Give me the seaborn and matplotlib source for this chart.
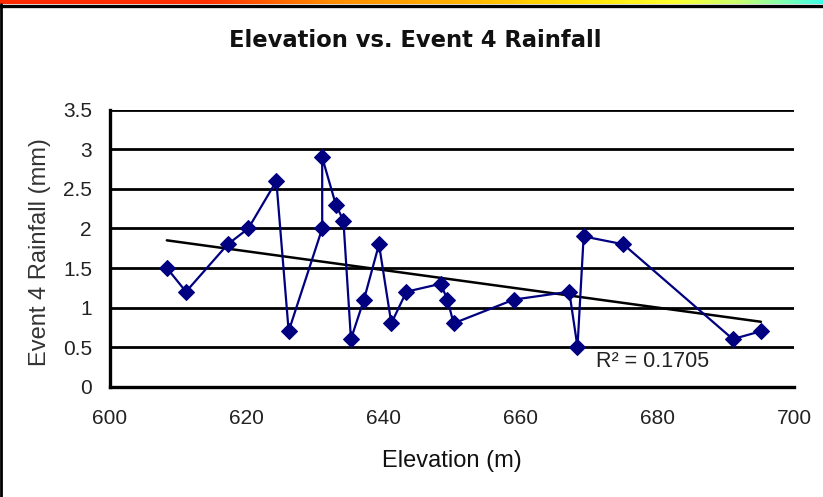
import numpy as np
import pandas as pd
import matplotlib
matplotlib.use("Agg")
import matplotlib.pyplot as plt
from matplotlib.colors import LinearSegmentedColormap
import seaborn as sns

# data
elevation = [608.3, 611.1, 617.2, 620.2, 624.3, 626.1, 631.0, 631.0, 633.0, 634.1,
             635.2, 637.1, 639.3, 641.1, 643.3, 648.3, 649.3, 650.2, 659.0, 667.1,
             668.3, 669.2, 675.0, 691.0, 695.1]
rainfall = [1.5, 1.2, 1.8, 2.0, 2.6, 0.7, 2.0, 2.9, 2.3, 2.1,
            0.6, 1.1, 1.8, 0.8, 1.2, 1.3, 1.1, 0.8, 1.1, 1.2,
            0.5, 1.9, 1.8, 0.6, 0.7]
x_ticks = [600, 620, 640, 660, 680, 700]
y_ticks = [0, 0.5, 1, 1.5, 2, 2.5, 3, 3.5]
y_tick_labels = ["0", "0.5", "1", "1.5", "2", "2.5", "3", "3.5"]
r2_label = "R² = 0.1705"

df = pd.DataFrame({"elevation": elevation, "rainfall": rainfall})

sns.set_theme(style="white")
plt.rcParams["font.family"] = ["Liberation Sans", "DejaVu Sans"]

fig = plt.figure(figsize=(8.23, 4.97), dpi=100)
ax = fig.add_axes([0.1337, 0.2223, 0.8316, 0.5564])

# horizontal grid lines
for yv in y_ticks[1:]:
    ax.axhline(yv, color="black", lw=2.0, zorder=1)

sns.lineplot(data=df, x="elevation", y="rainfall", sort=False, estimator=None,
             color="#000080", lw=1.6, marker="D", markersize=8.5,
             markeredgecolor="#000080", ax=ax, zorder=3)

# linear trend line
sns.regplot(data=df, x="elevation", y="rainfall", scatter=False, ci=None,
            truncate=True, color="black", line_kws={"lw": 1.8, "zorder": 2}, ax=ax)

ax.text(671, 0.32, r2_label, fontsize=15.5, va="center", ha="left", color="#222222")

ax.set_xlim(600, 700)
ax.set_ylim(0, 3.5)
ax.set_xticks(x_ticks)
ax.set_yticks(y_ticks)
ax.set_yticklabels(y_tick_labels)
ax.tick_params(axis="both", labelsize=15, colors="#222222", direction="out",
               width=2, color="black")
ax.tick_params(axis="x", length=7, pad=9)
ax.tick_params(axis="y", length=6, pad=7)

for side in ["top", "right"]:
    ax.spines[side].set_visible(False)
for side in ["left", "bottom"]:
    ax.spines[side].set_color("black")
    ax.spines[side].set_linewidth(2.4)

ax.set_xlabel("Elevation (m)", fontsize=17, color="#111111")
ax.xaxis.set_label_coords(0.5, -0.27)
ax.xaxis.label.set_va("center")
ax.set_ylabel("Event 4 Rainfall (mm)", fontsize=17, color="#333333")
ax.yaxis.set_label_coords(-0.102, 0.486)
ax.yaxis.label.set_va("center")

fig.text(0.5045, 0.9054, "Elevation vs. Event 4 Rainfall", fontsize=16.3,
         fontweight="bold", family="DejaVu Sans", ha="center", va="baseline",
         color="#111111")

# window frame: colour strip, black top rule and left rule
strip = fig.add_axes([0, 1 - 4 / 497, 1, 4 / 497])
cmap = LinearSegmentedColormap.from_list(
    "strip", [(0, "#ff2a00"), (0.25, "#ff3000"), (0.4, "#ff8c00"),
              (0.55, "#ffb000"), (0.7, "#ffe000"), (0.82, "#ffff30"),
              (0.9, "#c8ff70"), (1.0, "#40ffe8")])
strip.imshow(np.linspace(0, 1, 256)[None, :], aspect="auto", cmap=cmap)
strip.axis("off")
fig.add_artist(plt.Line2D([0, 1], [1 - 5.5 / 497] * 2, color="black", lw=2.4,
                          transform=fig.transFigure))
fig.add_artist(plt.Line2D([1.2 / 823] * 2, [0, 1 - 4 / 497], color="black", lw=2,
                          transform=fig.transFigure))

fig.savefig("out.png", dpi=100, facecolor="white")
